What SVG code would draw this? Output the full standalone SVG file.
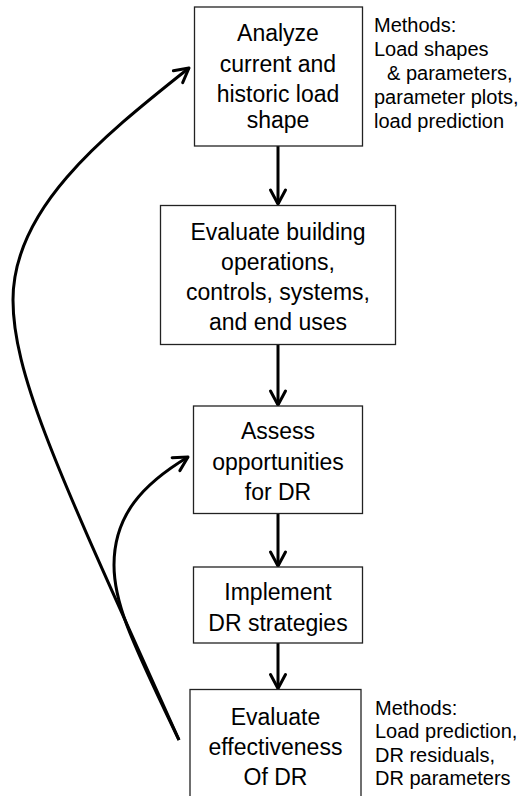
<svg xmlns="http://www.w3.org/2000/svg" width="527" height="796" viewBox="0 0 527 796">
<style>
.box{fill:#fff;stroke:#222;stroke-width:1.3}
.t{font-family:"Liberation Sans",Arial,sans-serif;font-size:23px;fill:#000;text-anchor:middle}
.n{font-family:"Liberation Sans",Arial,sans-serif;font-size:20px;fill:#000}
.c{fill:none;stroke:#000;stroke-width:3;stroke-linecap:butt}
</style>
<defs>
<marker id="ah" markerUnits="userSpaceOnUse" viewBox="-17 -11 20 22" refX="0" refY="0" markerWidth="20" markerHeight="22" orient="auto">
<path d="M-14,-7.5 L0,0 L-14,7.5" fill="none" stroke="#000" stroke-width="3" stroke-linecap="round" stroke-linejoin="round"/>
</marker>
</defs>
<rect width="527" height="796" fill="#fff"/>
<g id="connectors">
<path class="c" marker-end="url(#ah)" d="M278,146 L278,204"/>
<path class="c" marker-end="url(#ah)" d="M278,344.5 L278,405"/>
<path class="c" marker-end="url(#ah)" d="M278,513.5 L278,566"/>
<path class="c" marker-end="url(#ah)" d="M278,643 L278,688.5"/>
<path class="c" marker-end="url(#ah)" d="M179,740 C67,490 13,380 13,300 C13,210 98,140 189,68"/>
<path class="c" marker-end="url(#ah)" d="M179,740 C126,630 114,600 114,565 C114,515 143,484 188,457"/>
</g>
<g id="node1">
<rect class="box" x="194.5" y="7" width="168" height="139"/>
<text class="t" x="278" y="41">Analyze</text>
<text class="t" x="278" y="72">current and</text>
<text class="t" x="278" y="102">historic load</text>
<text class="t" x="278" y="128">shape</text>
</g>
<g id="note1">
<text class="n" x="374" y="32">Methods:</text>
<text class="n" x="374" y="56">Load shapes</text>
<text class="n" x="387" y="80">&amp; parameters,</text>
<text class="n" x="374" y="104">parameter plots,</text>
<text class="n" x="374" y="128">load prediction</text>
</g>
<g id="node2">
<rect class="box" x="160.5" y="205.5" width="235" height="139"/>
<text class="t" x="278" y="240">Evaluate building</text>
<text class="t" x="278" y="270">operations,</text>
<text class="t" x="278" y="300">controls, systems,</text>
<text class="t" x="278" y="330">and end uses</text>
</g>
<g id="node3">
<rect class="box" x="193.5" y="406" width="169" height="107.5"/>
<text class="t" x="278" y="439">Assess</text>
<text class="t" x="278" y="470">opportunities</text>
<text class="t" x="278" y="500">for DR</text>
</g>
<g id="node4">
<rect class="box" x="193.5" y="567" width="169" height="76"/>
<text class="t" x="278" y="600">Implement</text>
<text class="t" x="278" y="631">DR strategies</text>
</g>
<g id="node5">
<rect class="box" x="190" y="689.5" width="171" height="120"/>
<text class="t" x="275.5" y="725">Evaluate</text>
<text class="t" x="275.5" y="755">effectiveness</text>
<text class="t" x="275.5" y="785">Of DR</text>
</g>
<g id="note5">
<text class="n" x="375" y="715">Methods:</text>
<text class="n" x="375" y="738">Load prediction,</text>
<text class="n" x="375" y="762">DR residuals,</text>
<text class="n" x="375" y="785">DR parameters</text>
</g>
</svg>
